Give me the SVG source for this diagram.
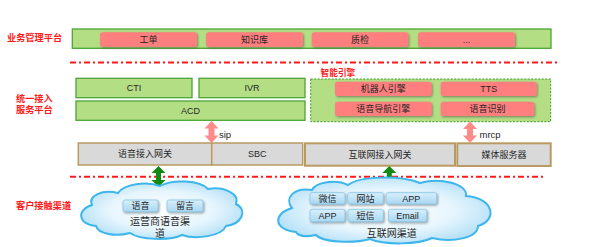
<svg xmlns="http://www.w3.org/2000/svg" width="601" height="247" viewBox="0 0 601 247">
<defs>
<filter id="sh" x="-10%" y="-30%" width="125%" height="170%">
<feDropShadow dx="1" dy="1.2" stdDeviation="0.9" flood-color="#4a4a4a" flood-opacity="0.55"/>
</filter>
<radialGradient id="cloudG" cx="0.5" cy="0.5" r="0.6">
<stop offset="0" stop-color="#ffffff"/>
<stop offset="0.55" stop-color="#e6f5fd"/>
<stop offset="1" stop-color="#a8dbf6"/>
</radialGradient>
<linearGradient id="btnG" x1="0" y1="0" x2="0" y2="1">
<stop offset="0" stop-color="#d8effb"/>
<stop offset="1" stop-color="#a9d7f1"/>
</linearGradient>
</defs>
<style>
.lbl{font-family:"Liberation Sans","Noto Sans CJK SC",sans-serif;font-weight:bold;fill:#ff1a1a;font-size:9.2px}
.t{font-family:"Liberation Sans","Noto Sans CJK SC",sans-serif;fill:#262626;font-size:9px;text-anchor:middle}
.tc{font-family:"Liberation Sans","Noto Sans CJK SC",sans-serif;fill:#262626;font-size:10px;text-anchor:middle}
.green{fill:#b3de84;stroke:#4ca536;stroke-width:1.3}
.pink{fill:#ff7f7f;filter:url(#sh)}
.gw{fill:#d9d9d9;stroke:#b99b62;stroke-width:1.5}
.sep{stroke:#ff1a1a;stroke-width:2;stroke-dasharray:6 3 2 3;fill:none}
.cloud{fill:url(#cloudG);stroke:#3db6ec;stroke-width:2}
.btn{fill:url(#btnG);stroke:#86c7e8;stroke-width:0.8;filter:url(#sh)}
.pa{fill:#ff8a8a}
.ga{fill:#118a11}
</style>

<g id="labels">
<text class="lbl" x="7" y="41.3">业务管理平台</text>
<text class="lbl" x="16" y="101.8">统一接入</text>
<text class="lbl" x="16" y="113.3">服务平台</text>
<text class="lbl" x="16" y="209.3">客户接触渠道</text>
</g>

<g id="separators">
<line class="sep" x1="70" y1="62.6" x2="558" y2="62.6"/>
<line class="sep" x1="70" y1="176.7" x2="546" y2="176.7"/>
</g>

<g id="business-platform">
<rect class="green" x="72.3" y="29" width="478.7" height="19.3"/>
<g id="gongdan"><rect class="pink" x="100" y="32.3" width="97" height="14.4" rx="2.5"/><text class="t" x="148.5" y="42.7">工单</text></g>
<g id="zhishiku"><rect class="pink" x="206" y="32.3" width="97" height="14.4" rx="2.5"/><text class="t" x="254.5" y="42.7">知识库</text></g>
<g id="zhijian"><rect class="pink" x="311.7" y="32.3" width="96.6" height="14.4" rx="2.5"/><text class="t" x="360" y="42.7">质检</text></g>
<g id="more"><rect class="pink" x="418" y="32.3" width="97" height="14.4" rx="2.5"/><text class="t" x="466.5" y="42.7">...</text></g>
</g>

<g id="cti"><rect class="green" x="76" y="78.3" width="116" height="19.4"/><text class="t" x="134" y="91.2">CTI</text></g>
<g id="ivr"><rect class="green" x="199" y="78.3" width="106" height="19.4"/><text class="t" x="252" y="91.2">IVR</text></g>
<g id="acd"><rect class="green" x="76" y="101" width="229" height="19.3"/><text class="t" x="190.5" y="113.9">ACD</text></g>

<g id="engine">
<text class="lbl" x="320.5" y="76" style="font-size:8.7px">智能引擎</text>
<rect x="310.7" y="79" width="240" height="42.7" fill="#b3de84" stroke="#3f9a2c" stroke-width="1" stroke-dasharray="2 1.5"/>
<g id="robot"><rect class="pink" x="335" y="81.7" width="96.7" height="14.3" rx="2.5"/><text class="t" x="383.3" y="92">机器人引擎</text></g>
<g id="tts"><rect class="pink" x="440.7" y="81.7" width="96" height="14.3" rx="2.5"/><text class="t" x="488.7" y="92">TTS</text></g>
<g id="nav"><rect class="pink" x="335" y="101.7" width="96.7" height="14.3" rx="2.5"/><text class="t" x="383.3" y="112">语音导航引擎</text></g>
<g id="asr"><rect class="pink" x="440.7" y="101.7" width="93.6" height="14.3" rx="2.5"/><text class="t" x="487.5" y="112">语音识别</text></g>
</g>

<g id="voice-gw"><rect class="gw" x="78.3" y="143" width="133.4" height="22"/><text class="t" x="145" y="157.2">语音接入网关</text></g>
<g id="sbc"><rect class="gw" x="211.7" y="143" width="91" height="22"/><text class="t" x="257.2" y="157.2">SBC</text></g>
<g id="inet-gw"><rect class="gw" x="305" y="143.3" width="150" height="22.4" style="stroke-width:2"/><text class="t" x="380" y="157.6">互联网接入网关</text></g>
<g id="media"><rect class="gw" x="457.3" y="143.3" width="93.4" height="22.7" style="stroke-width:2"/><text class="t" x="504" y="157.8">媒体服务器</text></g>

<g id="connectors">
<path class="pa" d="M211.5,121 L218.5,128.5 L214.5,128.5 L214.5,135.5 L218.5,135.5 L211.5,143 L204.5,135.5 L208.5,135.5 L208.5,128.5 L204.5,128.5 Z"/>
<text x="219" y="137.5" style="font-family:'Liberation Sans',sans-serif;font-size:9.5px;fill:#262626">sip</text>
<path class="pa" d="M470,121.5 L477,129 L473,129 L473,135.5 L477,135.5 L470,143 L463,135.5 L467,135.5 L467,129 L463,129 Z"/>
<text x="479.5" y="137.5" style="font-family:'Liberation Sans',sans-serif;font-size:9.5px;fill:#262626">mrcp</text>
<path class="ga" d="M158.5,166 L165.5,173 L161,173 L161,180 L165.5,180 L158.5,187 L151.5,180 L156,180 L156,173 L151.5,173 Z"/>
<path class="ga" d="M389.3,166 L396.3,173 L391.8,173 L391.8,180 L396.3,180 L389.3,187 L382.3,180 L386.8,180 L386.8,173 L382.3,173 Z"/>
</g>

<g id="carrier-cloud">
<path class="cloud" d="M96,226 C78,224 76,210 92,205 C88,196 102,189 118,193 C124,184 146,181 160,186 C172,179 200,180 208,189 C224,186 240,194 236,204 C248,210 242,224 226,226 C222,236 196,240 182,235 C170,241 140,240 130,233 C116,237 98,234 96,226 Z"/>
<g id="btn-yuyin"><rect class="btn" x="123" y="200" width="35" height="11.7" rx="2"/><text class="t" x="140.5" y="209.3">语音</text></g>
<g id="btn-liuyan"><rect class="btn" x="167" y="200" width="36" height="11.7" rx="2"/><text class="t" x="185" y="209.3">留言</text></g>
<text class="tc" x="160" y="224.5">运营商语音渠</text>
<text class="tc" x="160" y="237">道</text>
</g>

<g id="internet-cloud">
<path class="cloud" d="M296,232 C274,230 272,214 292,208 C284,198 294,187 312,190 C316,182 336,179 348,185 C360,176 400,175 420,183 C440,177 468,184 466,196 C494,198 498,220 478,226 C478,238 452,243 432,238 C418,245 384,245 370,239 C352,244 322,242 316,235 C306,237 298,236 296,232 Z"/>
<g id="btn-weixin"><rect class="btn" x="310" y="192.7" width="35" height="11.3" rx="2"/><text class="t" x="327.5" y="201.8">微信</text></g>
<g id="btn-wangzhan"><rect class="btn" x="347.7" y="192.7" width="35.6" height="11.3" rx="2"/><text class="t" x="365.5" y="201.8">网站</text></g>
<g id="btn-app1"><rect class="btn" x="386" y="192.7" width="50.7" height="11.3" rx="2"/><text class="t" x="411.3" y="201.8">APP</text></g>
<g id="btn-app2"><rect class="btn" x="310" y="209.3" width="35" height="12.4" rx="2"/><text class="t" x="327.5" y="219">APP</text></g>
<g id="btn-duanxin"><rect class="btn" x="348" y="209.3" width="35.3" height="12.4" rx="2"/><text class="t" x="365.6" y="219">短信</text></g>
<g id="btn-email"><rect class="btn" x="388.3" y="209.3" width="38.4" height="12.4" rx="2"/><text class="t" x="407.5" y="219">Email</text></g>
<text class="tc" x="391.7" y="236.5">互联网渠道</text>
</g>
</svg>
